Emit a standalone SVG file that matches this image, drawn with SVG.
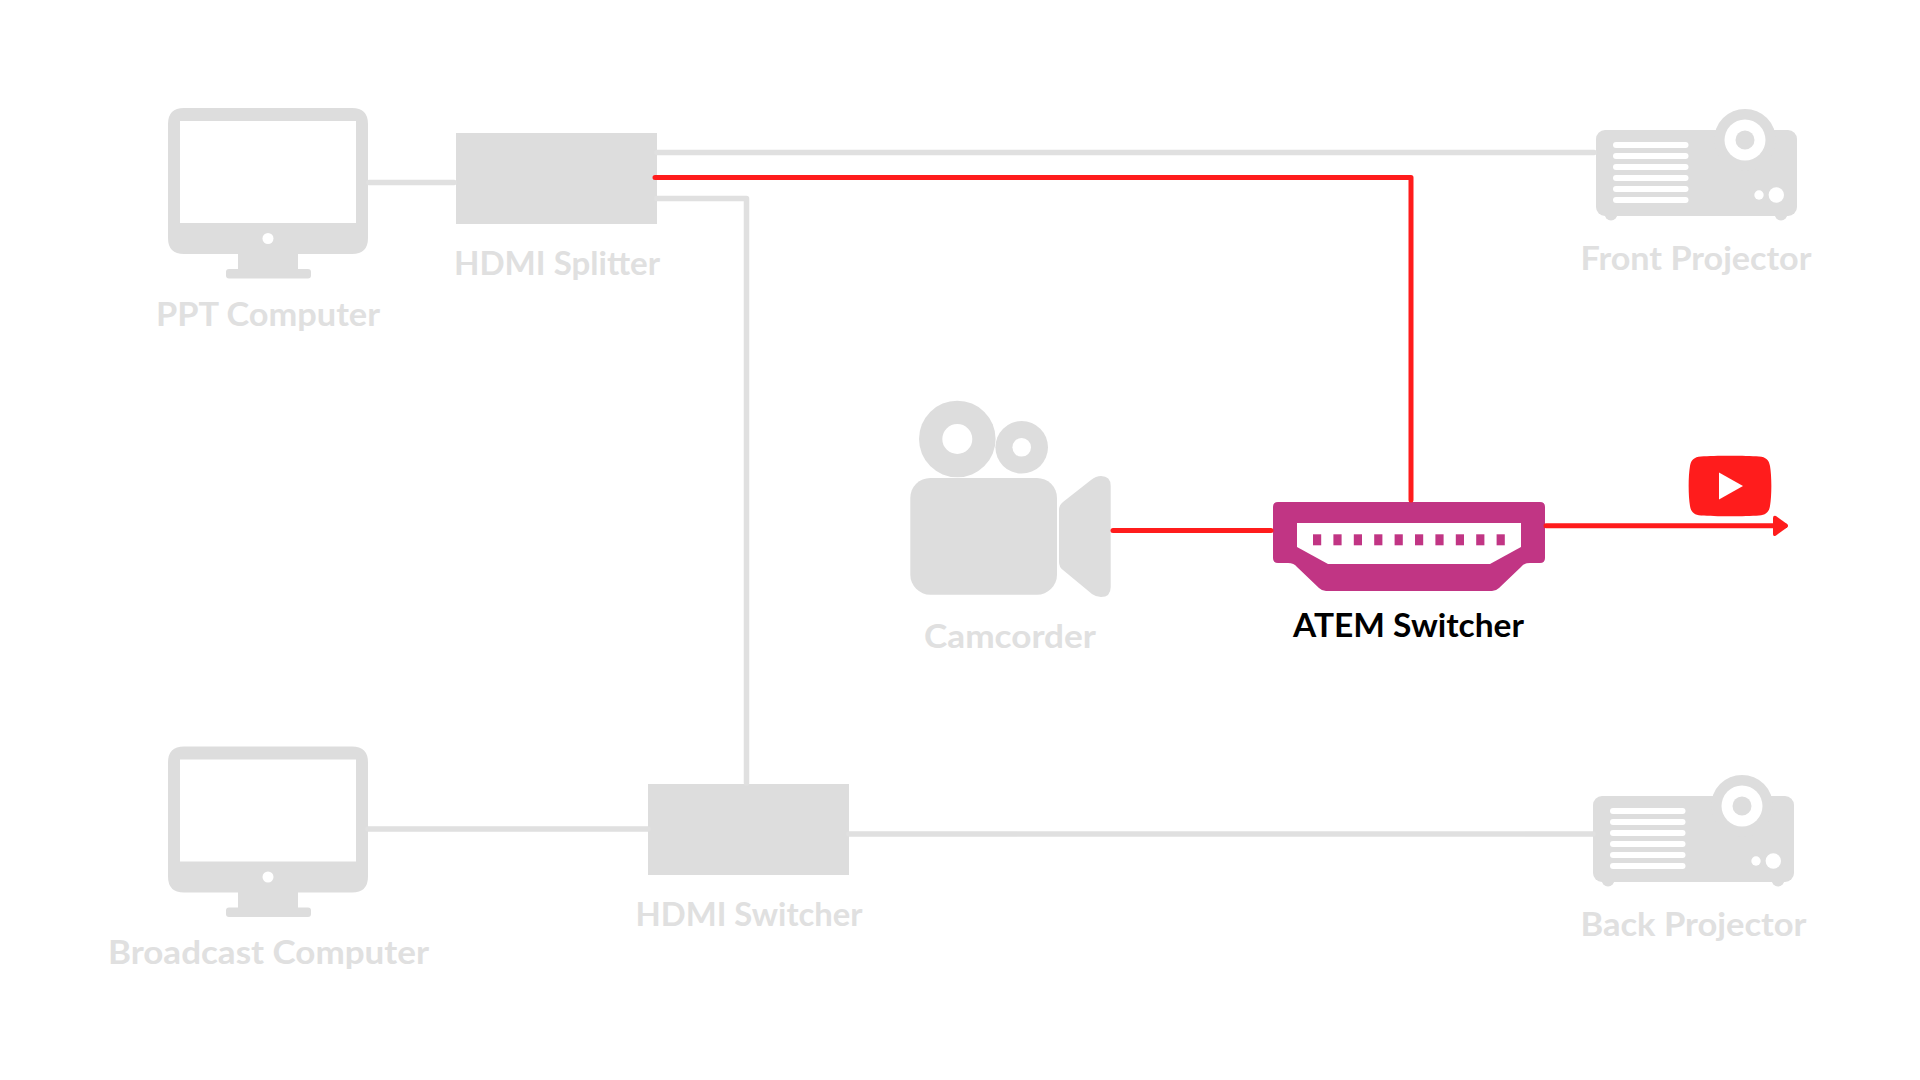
<svg xmlns="http://www.w3.org/2000/svg" width="1920" height="1080" viewBox="0 0 1920 1080">
  <style>
    .g { fill: #dddddd; }
    .w { fill: #ffffff; }
    .m { fill: #c13584; }
    .r { fill: #ff1c1c; }
    .lbl { font-family: "Lato", "Liberation Sans", sans-serif; font-weight: 700; font-size: 32px; fill: #e0e0e0; }
    .atem { fill: #000000; }
    .cg { fill: none; stroke: #e0e0e0; stroke-width: 5.5; stroke-linecap: round; stroke-linejoin: round; }
    .cr { fill: none; stroke: #ff1c1c; stroke-width: 5; stroke-linecap: round; stroke-linejoin: round; }
  </style>
  <defs>
    <g id="monitor">
      <path class="g" d="M184 0H352Q368 0 368 16V130Q368 146 352 146H298V161H308Q311 161 311 164V167.500Q311 170.500 308 170.500H229Q226 170.500 226 167.500V164Q226 161 229 161H238V146H184Q168 146 168 130V16Q168 0 184 0Z"/>
      <rect class="w" x="180" y="13" width="176" height="102"/>
      <circle class="w" cx="268" cy="130.500" r="5.500"/>
    </g>
    <g id="projector">
      <circle class="g" cx="15" cy="84" r="6.500"/>
      <circle class="g" cx="185" cy="84" r="6.500"/>
      <rect class="g" width="201" height="86" rx="9"/>
      <circle class="g" cx="149" cy="10" r="31"/>
      <circle class="w" cx="149" cy="10" r="20.500"/>
      <circle class="g" cx="149" cy="10" r="9.500"/>
      <rect class="w" x="17" y="12" width="75.500" height="6" rx="3"/>
      <rect class="w" x="17" y="23" width="75.500" height="6" rx="3"/>
      <rect class="w" x="17" y="34" width="75.500" height="6" rx="3"/>
      <rect class="w" x="17" y="45" width="75.500" height="6" rx="3"/>
      <rect class="w" x="17" y="56" width="75.500" height="6" rx="3"/>
      <rect class="w" x="17" y="67" width="75.500" height="6" rx="3"/>
      <circle class="w" cx="163" cy="65" r="4.700"/>
      <circle class="w" cx="180.300" cy="65" r="7.700"/>
    </g>
  </defs>
  <rect width="1920" height="1080" fill="#ffffff"/>

  <g id="ppt-computer">
    <use href="#monitor" x="0" y="108"/>
    <text class="lbl" x="156" y="326" textLength="224" lengthAdjust="spacingAndGlyphs">PPT Computer</text>
  </g>
  <g id="hdmi-splitter">
    <rect class="g" x="456" y="133" width="201" height="91"/>
    <text class="lbl" x="454" y="275" textLength="206" lengthAdjust="spacingAndGlyphs">HDMI Splitter</text>
  </g>
  <g id="front-projector">
    <use href="#projector" x="1596" y="130"/>
    <text class="lbl" x="1580.500" y="270" textLength="231" lengthAdjust="spacingAndGlyphs">Front Projector</text>
  </g>
  <g id="camcorder">
    <circle class="g" cx="957.300" cy="439" r="38.300"/>
    <circle class="w" cx="957.300" cy="439" r="15"/>
    <circle class="g" cx="1021.700" cy="447.300" r="26.300"/>
    <circle class="w" cx="1021.700" cy="447.300" r="9.300"/>
    <rect class="g" x="910.300" y="478" width="146.700" height="116.700" rx="20"/>
    <path class="g" d="M1059 510Q1059 505 1063 502L1091 480Q1096 476 1101 476Q1110.700 476 1110.700 486V587Q1110.700 597 1101 597Q1096 597 1092 594L1063 570Q1059 567 1059 562Z"/>
    <text class="lbl" x="924" y="648" textLength="172" lengthAdjust="spacingAndGlyphs">Camcorder</text>
  </g>
  <g id="atem-switcher">
    <path class="m" d="M1278 502H1540Q1545 502 1545 507V558Q1545 563 1540 563H1530Q1524 563 1521 567L1499 588Q1496 591 1492 591H1326Q1322 591 1319 588L1297 567Q1294 563 1288 563H1278Q1273 563 1273 558V507Q1273 502 1278 502Z"/>
    <path class="w" d="M1297 523H1521V547L1490 564H1328L1297 547Z"/>
    <g class="m">
      <rect x="1313" y="534.300" width="8.200" height="11"/>
      <rect x="1333.400" y="534.300" width="8.200" height="11"/>
      <rect x="1353.800" y="534.300" width="8.200" height="11"/>
      <rect x="1374.200" y="534.300" width="8.200" height="11"/>
      <rect x="1394.600" y="534.300" width="8.200" height="11"/>
      <rect x="1415" y="534.300" width="8.200" height="11"/>
      <rect x="1435.400" y="534.300" width="8.200" height="11"/>
      <rect x="1455.800" y="534.300" width="8.200" height="11"/>
      <rect x="1476.200" y="534.300" width="8.200" height="11"/>
      <rect x="1496.600" y="534.300" width="8.200" height="11"/>
    </g>
    <text class="lbl atem" x="1293" y="637" textLength="231" lengthAdjust="spacingAndGlyphs">ATEM Switcher</text>
  </g>
  <g id="youtube">
    <path class="r" d="M1701 456.500C1715 455.500 1745 455.500 1759 456.500C1766 457 1769 460 1770 466C1771.800 476 1771.800 496 1770 506C1769 512 1766 515 1759 515.500C1745 516.500 1715 516.500 1701 515.500C1694 515 1691 512 1690 506C1688.200 496 1688.200 476 1690 466C1691 460 1694 457 1701 456.500Z"/>
    <path class="w" d="M1719 472.500L1743 486L1719 499.500Z"/>
  </g>
  <g id="broadcast-computer">
    <use href="#monitor" x="0" y="746.500"/>
    <text class="lbl" x="108" y="964" textLength="321" lengthAdjust="spacingAndGlyphs">Broadcast Computer</text>
  </g>
  <g id="hdmi-switcher">
    <rect class="g" x="648" y="784" width="201" height="91"/>
    <text class="lbl" x="635.500" y="926" textLength="227" lengthAdjust="spacingAndGlyphs">HDMI Switcher</text>
  </g>
  <g id="back-projector">
    <use href="#projector" x="1593" y="796"/>
    <text class="lbl" x="1580.500" y="936" textLength="226" lengthAdjust="spacingAndGlyphs">Back Projector</text>
  </g>

  <g id="connectors">
    <path class="cg" d="M369 182.500H454"/>
    <path class="cg" d="M657 152.500H1594"/>
    <path class="cg" d="M657 198.500H746.500V783"/>
    <path class="cg" d="M368 829H648"/>
    <path class="cg" d="M849 834H1593"/>
    <path class="cr" d="M655 177.500H1411V500"/>
    <path class="cr" d="M1113 530.500H1271"/>
    <path class="cr" d="M1546 525.700H1785"/>
    <path class="r" d="M1773 518Q1773 515 1776 516L1787 524Q1789 525.700 1787 527.500L1776 535.500Q1773 537 1773 534Z"/>
  </g>
</svg>
